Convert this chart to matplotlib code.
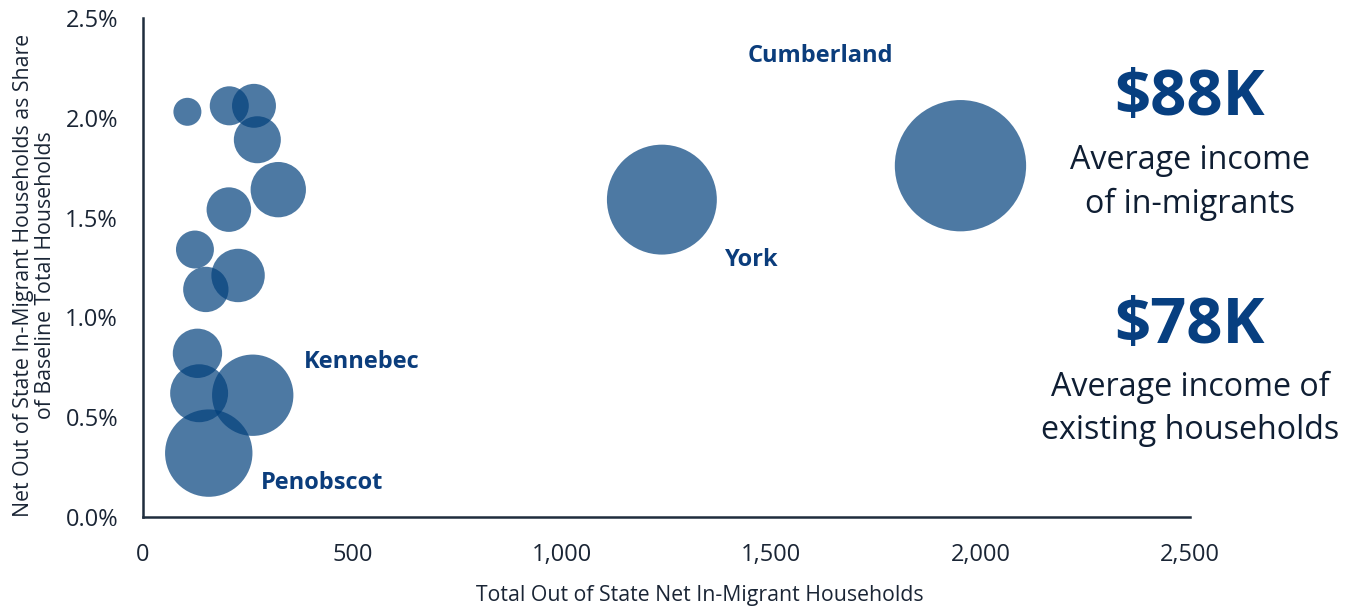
import matplotlib.pyplot as plt
from matplotlib.ticker import FuncFormatter

# county bubbles: net in-migrant households, share of baseline households (%), baseline households (thousands)
migrants = [106, 206, 265, 273, 323, 205, 124, 227, 150, 130, 134, 262, 157, 1239, 1952]
share = [2.03, 2.06, 2.06, 1.89, 1.64, 1.54, 1.34, 1.21, 1.14, 0.82, 0.62, 0.61, 0.32, 1.59, 1.76]
households = [5.6, 10.9, 13.8, 15.8, 21.9, 14.2, 10.3, 20.4, 14.7, 17.4, 24.0, 47.3, 54.6, 86.4, 123.3]

# named labels placed beside their bubbles
label_names = ['Cumberland', 'York', 'Kennebec', 'Penobscot']
label_x = [1618, 1453, 523, 427]
label_y = [2.31, 1.29, 0.775, 0.17]

income_in = '$88K'
income_existing = '$78K'

plt.rcParams['font.family'] = ['Open Sans', 'DejaVu Sans']

fig = plt.figure(figsize=(13.53, 6.08), dpi=100)
ax = fig.add_axes([0.1057, 0.1497, 0.7738, 0.8207])

sizes = [h * 72.5 for h in households]
ax.scatter(migrants, share, s=sizes, color='#02407c', alpha=0.7, linewidths=0)

for name, x, y in zip(label_names, label_x, label_y):
    ax.text(x, y, name, ha='center', va='center', fontsize=17, fontweight='bold', color='#0b3d7c')

ax.set_xlim(0, 2500)
ax.set_ylim(0, 2.5)
ax.set_xticks([0, 500, 1000, 1500, 2000, 2500])
ax.set_yticks([0, 0.5, 1.0, 1.5, 2.0, 2.5])
ax.xaxis.set_major_formatter(FuncFormatter(lambda v, p: f'{v:,.0f}'))
ax.yaxis.set_major_formatter(FuncFormatter(lambda v, p: f'{v:.1f}%'))
ax.tick_params(length=0, labelsize=17, colors='#1a2535')
ax.tick_params(axis='x', pad=19)
ax.tick_params(axis='y', pad=18)

for s in ['top', 'right']:
    ax.spines[s].set_visible(False)
for s in ['left', 'bottom']:
    ax.spines[s].set_color('#1f2d3d')
    ax.spines[s].set_linewidth(1.8)

ax.set_xlabel('Total Out of State Net In-Migrant Households', fontsize=15.3, color='#1a2535', labelpad=13)
ax.set_ylabel('Net Out of State In-Migrant Households as Share\nof Baseline Total Households',
              fontsize=15.3, color='#1a2535', labelpad=7, linespacing=1.05)
ax.xaxis.label.set_x(0.532)
ax.yaxis.label.set_y(0.485)

# side callouts
fig.text(0.8795, 1 - 99 / 608, income_in, ha='center', va='center', fontsize=45.5, fontweight='bold', color='#073f80')
fig.text(0.8795, 1 - 182.5 / 608, 'Average income\nof in-migrants', ha='center', va='center',
         fontsize=23.2, color='#0f1e33', linespacing=1.43)
fig.text(0.8795, 1 - 327 / 608, income_existing, ha='center', va='center', fontsize=45.5, fontweight='bold', color='#073f80')
fig.text(0.8795, 1 - 409 / 608, 'Average income of\nexisting households', ha='center', va='center',
         fontsize=23.2, color='#0f1e33', linespacing=1.43)

fig.savefig('out.png', dpi=100)
